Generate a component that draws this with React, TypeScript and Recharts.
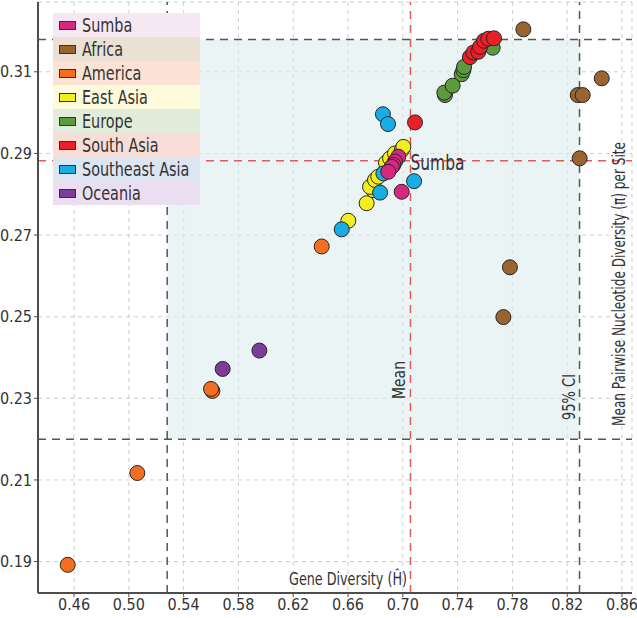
import React from 'react';
import {
  ScatterChart,
  Scatter,
  XAxis,
  YAxis,
  CartesianGrid,
  ReferenceLine,
  ReferenceArea,
  ReferenceDot,
  Legend,
} from 'recharts';

const FONT = '"Liberation Sans Narrow", "DejaVu Sans Condensed", "Liberation Sans", sans-serif';

const xTicks = [0.46, 0.5, 0.54, 0.58, 0.62, 0.66, 0.7, 0.74, 0.78, 0.82, 0.86];
const yTicks = [0.19, 0.21, 0.23, 0.25, 0.27, 0.29, 0.31];

const sumba = [
  { h: 0.6967, pi: 0.2892 },
  { h: 0.6943, pi: 0.288 },
  { h: 0.6931, pi: 0.2872 },
  { h: 0.6919, pi: 0.2867 },
  { h: 0.6894, pi: 0.2855 },
  { h: 0.6992, pi: 0.2806 },
];
const africa = [
  { h: 0.788, pi: 0.3204 },
  { h: 0.8452, pi: 0.3084 },
  { h: 0.8277, pi: 0.3043 },
  { h: 0.8313, pi: 0.3043 },
  { h: 0.8291, pi: 0.2888 },
  { h: 0.7782, pi: 0.2621 },
  { h: 0.7734, pi: 0.2499 },
];
const america = [
  { h: 0.4554, pi: 0.1892 },
  { h: 0.5062, pi: 0.2117 },
  { h: 0.561, pi: 0.2318 },
  { h: 0.56, pi: 0.2323 },
  { h: 0.6408, pi: 0.2672 },
];
const eastAsia = [
  { h: 0.6602, pi: 0.2735 },
  { h: 0.6736, pi: 0.2778 },
  { h: 0.6785, pi: 0.281 },
  { h: 0.6761, pi: 0.2818 },
  { h: 0.6797, pi: 0.2835 },
  { h: 0.6821, pi: 0.2843 },
  { h: 0.6877, pi: 0.2877 },
  { h: 0.6907, pi: 0.2888 },
  { h: 0.6943, pi: 0.29 },
  { h: 0.6992, pi: 0.2908 },
  { h: 0.7004, pi: 0.2916 },
];
const europe = [
  { h: 0.7308, pi: 0.3043 },
  { h: 0.7303, pi: 0.3049 },
  { h: 0.7364, pi: 0.3066 },
  { h: 0.743, pi: 0.3094 },
  { h: 0.7442, pi: 0.3104 },
  { h: 0.7447, pi: 0.3112 },
  { h: 0.7656, pi: 0.3159 },
];
const southAsia = [
  { h: 0.7089, pi: 0.2976 },
  { h: 0.749, pi: 0.3136 },
  { h: 0.7515, pi: 0.3147 },
  { h: 0.7551, pi: 0.3149 },
  { h: 0.7564, pi: 0.3161 },
  { h: 0.7593, pi: 0.3176 },
  { h: 0.7624, pi: 0.3181 },
  { h: 0.7666, pi: 0.3182 },
];
const southeastAsia = [
  { h: 0.6855, pi: 0.2996 },
  { h: 0.6892, pi: 0.2972 },
  { h: 0.7082, pi: 0.2832 },
  { h: 0.6858, pi: 0.2851 },
  { h: 0.6834, pi: 0.2804 },
  { h: 0.6554, pi: 0.2714 },
];
const oceania = [
  { h: 0.5685, pi: 0.2372 },
  { h: 0.5953, pi: 0.2417 },
];

const meanH = 0.7056;
const meanPi = 0.2882;
const ciH = [0.528, 0.829];
const ciPi = [0.22, 0.3179];

const regions = [
  { name: 'Sumba', color: '#d6287f', bg: '#f6e8f3', data: sumba },
  { name: 'Africa', color: '#9a6430', bg: '#ebe0d4', data: africa },
  { name: 'America', color: '#f26f22', bg: '#fbe2d4', data: america },
  { name: 'East Asia', color: '#f5ee1f', bg: '#fdfbdb', data: eastAsia },
  { name: 'Europe', color: '#5d9a3d', bg: '#e2ecdb', data: europe },
  { name: 'South Asia', color: '#e8202a', bg: '#f8dcd6', data: southAsia },
  { name: 'Southeast Asia', color: '#19ade6', bg: '#dce6f3', data: southeastAsia },
  { name: 'Oceania', color: '#7b3d98', bg: '#ebdef0', data: oceania },
];

const drawOrder = ['Africa', 'America', 'East Asia', 'Southeast Asia', 'Oceania', 'Europe', 'South Asia', 'Sumba'];

const makeDot = (color: string) => (props: any) => (
  <circle cx={props.cx} cy={props.cy} r={7.5} fill={color} stroke="#262626" strokeWidth={1} />
);

const LegendBox = () => (
  <div style={{ width: 147, fontFamily: FONT }}>
    {regions.map((r) => (
      <div
        key={r.name}
        style={{
          height: 24,
          background: r.bg,
          display: 'flex',
          alignItems: 'center',
          fontSize: 20,
          color: '#333',
          lineHeight: '24px',
          whiteSpace: 'nowrap',
          overflow: 'visible',
        }}
      >
        <span
          style={{
            display: 'inline-block',
            width: 15,
            height: 7,
            background: r.color,
            border: '1px solid #333',
            marginLeft: 6,
            marginRight: 6,
            flex: 'none',
          }}
        />
        <span style={{ display: 'inline-block', transform: 'scaleX(0.8)', transformOrigin: 'left center' }}>{r.name}</span>
      </div>
    ))}
  </div>
);

const tickStyle = { fontFamily: FONT, fontSize: 16, fill: '#333' };

const MeanLabel = (props: any) => {
  const { viewBox } = props;
  const x = viewBox.x - 5;
  const y = 380;
  return (
    <text x={x} y={y} transform={`rotate(-90 ${x} ${y})`} textAnchor="middle" fontFamily={FONT} fontSize={17} fill="#333" textLength={38} lengthAdjust="spacingAndGlyphs">
      Mean
    </text>
  );
};

const CILabel = (props: any) => {
  const { viewBox } = props;
  const x = viewBox.x - 5;
  const y = 397;
  return (
    <text x={x} y={y} transform={`rotate(-90 ${x} ${y})`} textAnchor="middle" fontFamily={FONT} fontSize={17} fill="#333" textLength={46} lengthAdjust="spacingAndGlyphs">
      95% CI
    </text>
  );
};

const SumbaLabel = (props: any) => {
  const { viewBox } = props;
  return (
    <text x={viewBox.x + viewBox.width / 2} y={viewBox.y + viewBox.height / 2 + 9} textAnchor="start" fontFamily={FONT} fontSize={21} fill="#333" textLength={54} lengthAdjust="spacingAndGlyphs">
      Sumba
    </text>
  );
};

const XLabel = (props: any) => {
  const { viewBox } = props;
  return (
    <text x={viewBox.x + viewBox.width / 2 + 13} y={viewBox.y - 8} textAnchor="middle" fontFamily={FONT} fontSize={17} fill="#333" textLength={118} lengthAdjust="spacingAndGlyphs">
      Gene Diversity (Ĥ)
    </text>
  );
};

const YLabel = () => {
  const x = 625;
  const y = 284;
  return (
    <text x={x} y={y} transform={`rotate(-90 ${x} ${y})`} textAnchor="middle" fontFamily={FONT} fontSize={17} fill="#333" textLength={284} lengthAdjust="spacingAndGlyphs">
      Mean Pairwise Nucleotide Diversity (π) per Site
    </text>
  );
};

const xDomain = [0.4337, 0.8673];
const yDomain = [0.1823, 0.3271];

export default function App() {
  return (
    <div style={{ position: 'absolute', left: 0, top: 0, background: '#fff' }}>
      <ScatterChart width={637} height={618} margin={{ top: 2, right: 5, bottom: 0, left: 0 }}>
        <CartesianGrid stroke="#cfcfcf" strokeDasharray="4 4" />
        <XAxis
          dataKey="h"
          type="number"
          domain={xDomain}
          ticks={xTicks}
          tickFormatter={(v: number) => v.toFixed(2)}
          tick={tickStyle}
          height={25}
          axisLine={{ stroke: '#4d4d4d', strokeWidth: 2 }}
          tickLine={{ stroke: '#4d4d4d' }}
          tickSize={4}
          allowDataOverflow
          label={<XLabel />}
        />
        <XAxis xAxisId="top" orientation="top" type="number" domain={xDomain} height={0} tick={false} tickLine={false} axisLine={{ stroke: '#4d4d4d', strokeWidth: 2 }} allowDataOverflow />
        <YAxis
          dataKey="pi"
          type="number"
          domain={yDomain}
          ticks={yTicks}
          tickFormatter={(v: number) => v.toFixed(2)}
          tick={tickStyle}
          width={38}
          axisLine={{ stroke: '#4d4d4d', strokeWidth: 2 }}
          tickLine={{ stroke: '#4d4d4d' }}
          tickSize={4}
          allowDataOverflow
        />
        <YAxis yAxisId="right" orientation="right" type="number" domain={yDomain} width={0} tick={false} tickLine={false} axisLine={{ stroke: '#4d4d4d', strokeWidth: 2 }} allowDataOverflow />
        <ReferenceArea x1={ciH[0]} x2={ciH[1]} y1={ciPi[0]} y2={ciPi[1]} fill="#dcedef" fillOpacity={0.6} stroke="none" />
        <ReferenceLine x={ciH[0]} stroke="#555" strokeWidth={1.5} strokeDasharray="8 6" />
        <ReferenceLine x={ciH[1]} stroke="#555" strokeWidth={1.5} strokeDasharray="8 6" label={<CILabel />} />
        <ReferenceLine y={ciPi[0]} stroke="#555" strokeWidth={1.5} strokeDasharray="8 6" />
        <ReferenceLine y={ciPi[1]} stroke="#555" strokeWidth={1.5} strokeDasharray="8 6" />
        <ReferenceLine x={meanH} stroke="#e45a5a" strokeWidth={1.5} strokeDasharray="8 6" label={<MeanLabel />} />
        <ReferenceLine y={meanPi} stroke="#e45a5a" strokeWidth={1.5} strokeDasharray="8 6" />
        {drawOrder.map((n) => {
          const r = regions.find((g) => g.name === n)!;
          return (
            <Scatter key={r.name} name={r.name} data={r.data} fill={r.color} shape={makeDot(r.color)} isAnimationActive={false} />
          );
        })}
        <ReferenceDot x={meanH} y={meanPi} r={0} fill="none" stroke="none" label={<SumbaLabel />} />
        <ReferenceDot x={0.86} y={0.25} r={0} fill="none" stroke="none" ifOverflow="visible" label={<YLabel />} />
        <Legend
          layout="vertical"
          align="center"
          verticalAlign="middle"
          wrapperStyle={{ left: 53, top: 13, width: 147 }}
          content={() => <LegendBox />}
        />
      </ScatterChart>
    </div>
  );
}
